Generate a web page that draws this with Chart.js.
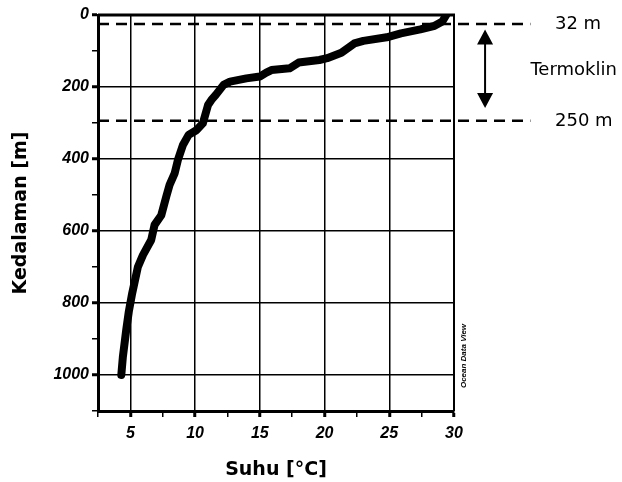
<!DOCTYPE html>
<html>
<head>
<meta charset="utf-8">
<script src="https://cdn.jsdelivr.net/npm/chart.js@4"></script>
<style>
  body { margin: 0; background: #fff; }
  canvas { display: block; }
</style>
</head>
<body>
<canvas id="profileChart" width="622" height="482"></canvas>
<script>
// temperature profile, deep -> surface
const depths = [1000, 950, 875, 824, 773, 700, 667, 625, 583, 556, 505, 472, 440, 403, 361, 333, 320, 301, 250, 236,
                222, 194, 185, 176, 171, 160, 153, 148, 132, 125, 120, 105, 79, 72, 62, 51, 40, 30, 18, 0];
const temps = [4.3, 4.42, 4.68, 4.88, 5.14, 5.58, 5.97, 6.61, 6.87, 7.39, 7.77, 8.03, 8.42, 8.67, 9.06, 9.5, 10.1, 10.6, 11.0, 11.26,
               11.6, 12.2, 12.7, 13.96, 15.0, 15.5, 15.9, 17.3, 18.0, 19.6, 20.2, 21.3, 22.3, 23.0, 24.8, 25.9, 27.4, 28.5, 29.1, 29.4];

// thermocline guide lines (drawn where they sit in the figure) and their labels
const markDepths = [25, 294];
const markLabels = ['32 m', '250 m'];
const markSpan = [2.5, 35.9];      // temperature range the dashed lines run over
const labelTemp = 37.8;            // where the "32 m" / "250 m" text starts
const termoText = 'Termoklin';
const termoAt = [35.9, 153];       // temp, depth
const arrowTemp = 32.4;
const arrowDepths = [40, 258];

const yTicks = [0, 200, 400, 600, 800, 1000];
const xTicks = [5, 10, 15, 20, 25, 30];

const tickFont = { family: 'Liberation Sans', size: 16, weight: 'bold', style: 'italic' };
const titleFont = { family: 'DejaVu Sans', size: 19, weight: 'bold' };

const guideSets = markDepths.map(d => ({
    data: markSpan.map(t => ({ x: t, y: d })),
    borderColor: '#000',
    borderWidth: 2.5,
    borderDash: [11, 7],
    pointRadius: 0,
    clip: false
}));

const notes = {
    id: 'notes',
    afterDatasetsDraw(chart) {
        const { ctx, chartArea: a, scales: { x, y } } = chart;
        ctx.save();
        ctx.strokeStyle = '#000';
        ctx.fillStyle = '#000';

        // top and right frame
        ctx.lineWidth = 3;
        ctx.beginPath(); ctx.moveTo(a.left, a.top); ctx.lineTo(a.right + 1, a.top); ctx.stroke();
        ctx.lineWidth = 2;
        ctx.beginPath(); ctx.moveTo(a.right, a.top); ctx.lineTo(a.right, a.bottom); ctx.stroke();

        // double arrow
        const ax = x.getPixelForValue(arrowTemp);
        const y1 = y.getPixelForValue(arrowDepths[0]);
        const y2 = y.getPixelForValue(arrowDepths[1]);
        ctx.lineWidth = 2;
        ctx.beginPath(); ctx.moveTo(ax, y1 + 10); ctx.lineTo(ax, y2 - 10); ctx.stroke();
        ctx.beginPath(); ctx.moveTo(ax, y1); ctx.lineTo(ax - 8, y1 + 15); ctx.lineTo(ax + 8, y1 + 15); ctx.closePath(); ctx.fill();
        ctx.beginPath(); ctx.moveTo(ax, y2); ctx.lineTo(ax - 8, y2 - 15); ctx.lineTo(ax + 8, y2 - 15); ctx.closePath(); ctx.fill();

        // labels
        ctx.font = '18px "DejaVu Sans"';
        ctx.textBaseline = 'middle';
        ctx.textAlign = 'left';
        markLabels.forEach((t, i) => ctx.fillText(t, x.getPixelForValue(labelTemp), y.getPixelForValue(markDepths[i])));
        ctx.fillText(termoText, x.getPixelForValue(termoAt[0]), y.getPixelForValue(termoAt[1]));

        // ODV credit
        ctx.translate(a.right + 10, a.bottom - 55);
        ctx.rotate(-Math.PI / 2);
        ctx.font = 'italic bold 8px "Liberation Sans"';
        ctx.textAlign = 'center';
        ctx.fillText('Ocean Data View', 0, 0);
        ctx.restore();
    }
};

const isMajorY = v => yTicks.includes(v);
const isMajorX = v => xTicks.includes(v);

const config = {
    type: 'line',
    data: {
        datasets: [{
            data: depths.map((d, i) => ({ x: temps[i], y: d })),
            borderColor: '#000',
            borderWidth: 8,
            borderJoinStyle: 'round',
            borderCapStyle: 'round',
            pointRadius: 0,
            tension: 0
        }, ...guideSets]
    },
    options: {
        responsive: false,
        animation: false,
        devicePixelRatio: 1,
        layout: { padding: { top: 15, right: 168, left: 0, bottom: 0 } },
        plugins: { legend: { display: false }, tooltip: { enabled: false } },
        scales: {
            x: {
                type: 'linear',
                min: 2.5,
                max: 30,
                afterFit(s) { s.height = 71; },
                ticks: {
                    stepSize: 2.5,
                    autoSkip: false,
                    maxRotation: 0,
                    padding: 7,
                    color: '#000',
                    font: tickFont,
                    callback: v => isMajorX(v) ? v : ''
                },
                grid: {
                    color: c => isMajorX(c.tick.value) && c.tick.value < 30 ? '#000' : 'rgba(0,0,0,0)',
                    lineWidth: 1.5,
                    tickLength: 6,
                    tickColor: '#000',
                    tickWidth: c => isMajorX(c.tick.value) ? 3 : 1.5
                },
                border: { color: '#000', width: 3 },
                title: { display: true, text: 'Suhu [°C]', color: '#000', font: titleFont, padding: { bottom: 1 } }
            },
            y: {
                type: 'linear',
                reverse: true,
                min: 0,
                max: 1100,
                afterFit(s) { s.width = 98; },
                ticks: {
                    stepSize: 100,
                    autoSkip: false,
                    padding: 3,
                    color: '#000',
                    font: tickFont,
                    callback: v => isMajorY(v) ? v : ''
                },
                grid: {
                    color: c => isMajorY(c.tick.value) && c.tick.value > 0 ? '#000' : 'rgba(0,0,0,0)',
                    lineWidth: 1.5,
                    tickLength: 6,
                    tickColor: '#000',
                    tickWidth: c => isMajorY(c.tick.value) ? 3 : 1.5
                },
                border: { color: '#000', width: 3 },
                title: { display: true, text: 'Kedalaman [m]', color: '#000', font: titleFont, padding: { top: 10 } }
            }
        }
    },
    plugins: [notes]
};

window.onload = function() {
    const ctx = document.getElementById('profileChart').getContext('2d');
    new Chart(ctx, config);
};
</script>
</body>
</html>
